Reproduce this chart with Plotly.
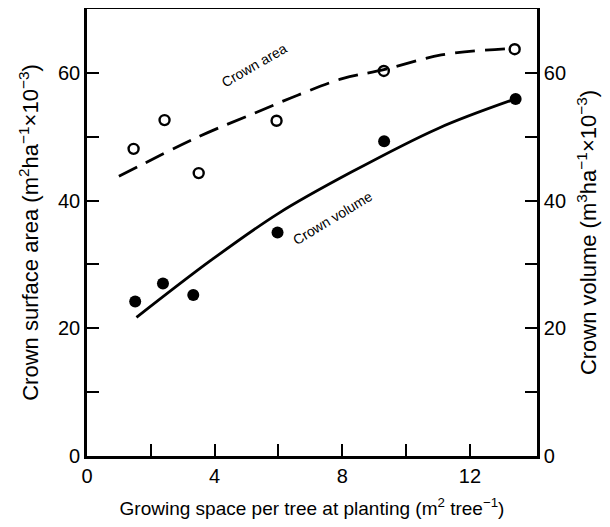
import plotly.graph_objects as go

# Observed data (growing space per tree, m2 tree-1)
area_x = [1.46, 2.43, 3.5, 5.94, 9.3, 13.4]
area_y = [48.1, 52.6, 44.3, 52.5, 60.3, 63.7]
vol_x = [1.51, 2.38, 3.33, 5.97, 9.31, 13.43]
vol_y = [24.2, 27.0, 25.2, 35.0, 49.3, 55.9]

# Fitted curves
area_fit_x = [1.0, 3.5, 5.3, 6.6, 8.0, 9.3, 11.1, 13.2]
area_fit_y = [43.8, 50.0, 53.8, 56.5, 59.1, 60.5, 62.8, 63.8]
vol_fit_x = [1.55, 3.9, 6.0, 8.3, 11.0, 13.3]
vol_fit_y = [21.7, 30.7, 38.0, 44.5, 51.3, 55.7]

x_ticks = [0, 4, 8, 12]
y_ticks = [0, 20, 40, 60]

FONT = "Liberation Sans, Arial, sans-serif"

fig = go.Figure()
fig.add_trace(go.Scatter(x=area_fit_x, y=area_fit_y, mode="lines", line_shape="spline",
                         line=dict(color="black", width=2.8, dash="20px,10px"), showlegend=False))
fig.add_trace(go.Scatter(x=vol_fit_x, y=vol_fit_y, mode="lines", line_shape="spline",
                         line=dict(color="black", width=2.8), showlegend=False))
fig.add_trace(go.Scatter(x=area_x, y=area_y, mode="markers",
                         marker=dict(symbol="circle-open", size=10, color="black", line=dict(width=2.4)),
                         showlegend=False))
fig.add_trace(go.Scatter(x=vol_x, y=vol_y, mode="markers",
                         marker=dict(symbol="circle", size=12, color="black"), showlegend=False))
# invisible trace for the right axis
fig.add_trace(go.Scatter(x=[0], y=[0], yaxis="y2", mode="markers", marker=dict(opacity=0),
                         showlegend=False, hoverinfo="skip"))

fig.add_annotation(x=5.25, y=61.2, text="Crown area", showarrow=False, textangle=-30,
                   font=dict(family=FONT, size=14, color="black"))
fig.add_annotation(x=7.7, y=37.2, text="Crown volume", showarrow=False, textangle=-31,
                   font=dict(family=FONT, size=14, color="black"))

axis_common = dict(showgrid=False, zeroline=False, showline=True, linecolor="black", linewidth=2.6,
                   ticks="inside", ticklen=12, tickwidth=2.4, tickcolor="black",
                   tickfont=dict(family=FONT, size=20, color="black"))

X_TITLE_FONT = dict(family=FONT, size=19, color="black")
Y_TITLE_FONT = dict(family=FONT, size=22, color="black")

fig.update_layout(
    width=602, height=519,
    margin=dict(l=79, r=73, t=1, b=71, autoexpand=False),
    plot_bgcolor="white", paper_bgcolor="white",
    xaxis=dict(range=[0, 14.1], tickvals=x_ticks, mirror=True,
               minor=dict(tickvals=[2, 6, 10], ticks="inside", ticklen=12, tickwidth=2.4, tickcolor="black"),
               title=dict(text="Growing space per tree at planting (m<sup>2</sup> tree<sup>−1</sup>)",
                          font=X_TITLE_FONT, standoff=16),
               **axis_common),
    yaxis=dict(range=[0, 70], tickvals=y_ticks,
               minor=dict(tickvals=[10, 30, 50], ticks="inside", ticklen=12, tickwidth=2.4, tickcolor="black"),
               title=dict(text="Crown surface area (m<sup>2</sup>ha<sup>−1</sup>×10<sup>−3</sup>)",
                          font=Y_TITLE_FONT, standoff=14),
               **axis_common),
    yaxis2=dict(range=[0, 70], tickvals=y_ticks, overlaying="y", side="right",
                minor=dict(tickvals=[10, 30, 50], ticks="inside", ticklen=12, tickwidth=2.4, tickcolor="black"),
                title=dict(text="Crown volume (m<sup>3</sup>ha<sup>−1</sup>×10<sup>−3</sup>)",
                           font=Y_TITLE_FONT, standoff=16),
                **axis_common),
)

fig.write_html("out.html")
